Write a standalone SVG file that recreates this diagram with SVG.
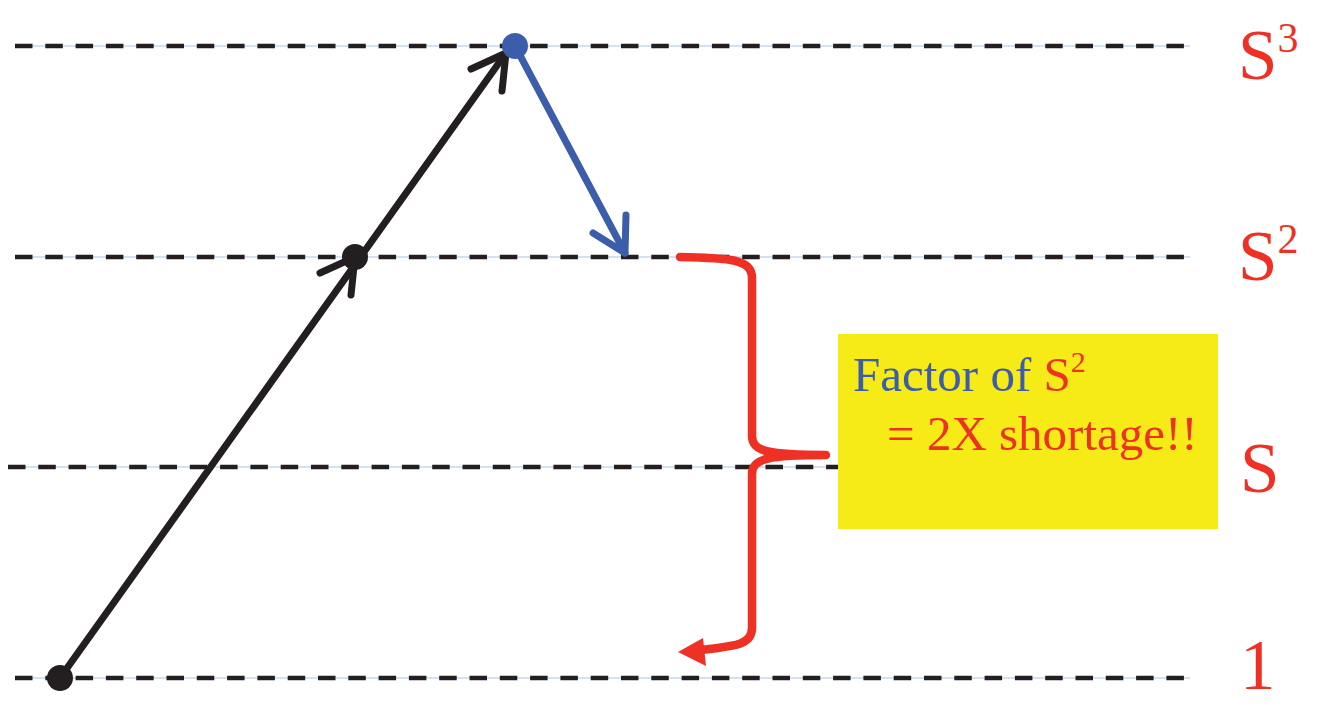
<svg xmlns="http://www.w3.org/2000/svg" width="1326" height="704" viewBox="0 0 1326 704">
<style>
.guide{stroke:#A9C4E4;stroke-width:1.2;fill:none}
.dash{stroke:#231F20;stroke-width:4.5;stroke-dasharray:17.5 12.8;fill:none}
.blk{stroke:#231F20;stroke-width:7;stroke-linecap:round;stroke-linejoin:round;fill:none}
.blu{stroke:#3C5DAA;stroke-width:7;stroke-linecap:round;stroke-linejoin:round;fill:none}
.red{stroke:#EE3124;stroke-width:8.5;stroke-linecap:round;stroke-linejoin:round;fill:none}
.lbl{font-family:"Liberation Serif","Times New Roman",serif;fill:#EE3124}
</style>
<rect width="1326" height="704" fill="#FFFFFF"/>
<g id="levels">
<line class="guide" x1="15" y1="46" x2="1190" y2="46"/>
<line class="dash" x1="15" y1="46" x2="1190" y2="46"/>
<line class="guide" x1="15" y1="257" x2="1190" y2="257"/>
<line class="dash" x1="15" y1="257" x2="1190" y2="257"/>
<line class="guide" x1="8" y1="467" x2="1190" y2="467"/>
<line class="dash" x1="8" y1="467" x2="1190" y2="467"/>
<line class="guide" x1="15" y1="678" x2="1190" y2="678"/>
<line class="dash" x1="15" y1="678" x2="1190" y2="678"/>
</g>
<g id="connectors">
<line class="blk" x1="60" y1="678" x2="506" y2="53"/>
<polyline class="blk" points="320,273 355,257 351,295"/>
<polyline class="blk" points="471,69 506,53 502,91"/>
<line class="blu" x1="515" y1="46" x2="625" y2="253"/>
<polyline class="blu" points="626,215 625,253 593,233"/>
<path class="red" d="M680,257 C730,258 752,259 752,278 L752,436 C752,452 770,455 826,455 C770,455 752,458 752,474 L752,628 C752,645 735,646 700,650"/>
<path d="M678,652 L703,638 L706,666 Z" fill="#EE3124"/>
</g>
<g id="node-start"><circle cx="60" cy="678" r="13" fill="#231F20"/></g>
<g id="node-mid"><circle cx="355" cy="257" r="13" fill="#231F20"/></g>
<g id="node-top"><circle cx="515" cy="46" r="13" fill="#3C5DAA"/></g>
<g id="note">
<rect x="838" y="334" width="380" height="195" fill="#F6EB16"/>
<text x="853" y="391" font-family="'Liberation Serif','Times New Roman',serif" font-size="49" fill="#3C5DAA">Factor of <tspan fill="#EE3124">S</tspan><tspan fill="#EE3124" font-size="30" dy="-19">2</tspan></text>
<text class="lbl" x="887" y="450" font-size="49">= 2X shortage!!</text>
</g>
<g id="labels">
<text class="lbl" x="1238" y="79" font-size="71">S<tspan font-size="42" dy="-27">3</tspan></text>
<text class="lbl" x="1238" y="280" font-size="71">S<tspan font-size="42" dy="-27">2</tspan></text>
<text class="lbl" x="1240" y="492" font-size="71">S</text>
<text class="lbl" x="1240" y="689" font-size="71">1</text>
</g>
</svg>
